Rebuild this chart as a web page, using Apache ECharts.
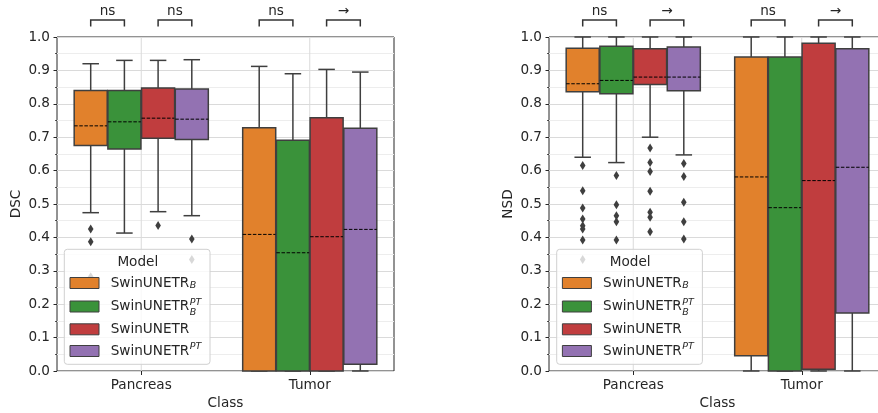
<!DOCTYPE html>
<html>
<head>
<meta charset="utf-8">
<title>DSC / NSD boxplots</title>
<script src="https://cdn.jsdelivr.net/npm/echarts@6/dist/echarts.min.js"></script>
</head>
<body style="margin:0">
<div id="main" style="width:878px;height:413px;"></div>
<script>
// categories and models
var classes = ['Pancreas', 'Tumor'];
var modelNames = ['SwinUNETR', 'SwinUNETR', 'SwinUNETR', 'SwinUNETR'];
var modelSub = ['B', 'B', '', ''];
var modelSup = ['', 'PT', '', 'PT'];
var colors = ['#e1812c', '#3a923a', '#c03d3e', '#9372b2'];
var yTicks = [0, 0.1, 0.2, 0.3, 0.4, 0.5, 0.6, 0.7, 0.8, 0.9, 1.0];

// box stats: [min, q1, median, q3, max], one row per model
var dscPancreas = [
  [0.474, 0.675, 0.734, 0.840, 0.920],
  [0.413, 0.665, 0.746, 0.840, 0.930],
  [0.477, 0.697, 0.757, 0.847, 0.930],
  [0.465, 0.693, 0.754, 0.844, 0.932]
];
var dscTumor = [
  [0.000, 0.000, 0.409, 0.728, 0.912],
  [0.000, 0.000, 0.354, 0.691, 0.890],
  [0.000, 0.000, 0.402, 0.758, 0.903],
  [0.000, 0.020, 0.424, 0.727, 0.895]
];
var dscOutPancreas = [[0.425, 0.387, 0.282], [], [0.436], [0.395, 0.334]];
var dscOutTumor = [[], [], [], []];

var nsdPancreas = [
  [0.640, 0.836, 0.860, 0.966, 1.000],
  [0.624, 0.830, 0.870, 0.972, 1.000],
  [0.700, 0.858, 0.880, 0.965, 1.000],
  [0.647, 0.839, 0.880, 0.970, 1.000]
];
var nsdTumor = [
  [0.000, 0.046, 0.581, 0.940, 1.000],
  [0.000, 0.000, 0.489, 0.940, 1.000],
  [0.000, 0.005, 0.570, 0.981, 1.000],
  [0.000, 0.174, 0.610, 0.965, 1.000]
];
var nsdOutPancreas = [
  [0.615, 0.540, 0.488, 0.455, 0.435, 0.425, 0.392, 0.334],
  [0.585, 0.498, 0.465, 0.447, 0.392],
  [0.668, 0.624, 0.597, 0.538, 0.475, 0.460, 0.417],
  [0.621, 0.582, 0.505, 0.447, 0.395]
];
var nsdOutTumor = [[], [], [], []];

// significance marks: [class, model a, model b, text]
var dscMarks = [[0, 0, 1, 'ns'], [0, 2, 3, 'ns'], [1, 0, 1, 'ns'], [1, 2, 3, '\u2192']];
var nsdMarks = [[0, 0, 1, 'ns'], [0, 2, 3, '\u2192'], [1, 0, 1, 'ns'], [1, 2, 3, '\u2192']];

var FONT = 'DejaVu Sans';
var FS = 13.6;
var TXT = '#262626';
var EDGE = '#3f3f3f';

function boxRows(pan, tum) {
  var rows = [];
  [pan, tum].forEach(function (arr, c) {
    arr.forEach(function (s, g) { rows.push([c, g].concat(s)); });
  });
  return rows;
}
function outRows(pan, tum) {
  var rows = [];
  [pan, tum].forEach(function (arr, c) {
    arr.forEach(function (vals, g) {
      vals.forEach(function (v) { rows.push([c, g, v]); });
    });
  });
  return rows;
}

function slot(api, c, g) {
  var band = api.size([1, 0])[0];
  var w = band * 0.2;
  return { cx: api.coord([c, 0])[0] + (g - 1.5) * w, w: w * 0.98 };
}

function renderBox(params, api) {
  var c = api.value(0), g = api.value(1);
  var s = slot(api, c, g);
  var y = [2, 3, 4, 5, 6].map(function (d) { return api.coord([c, api.value(d)])[1]; });
  var half = s.w / 2, cap = s.w / 4;
  var ls = { stroke: EDGE, lineWidth: 1.5 };
  return {
    type: 'group',
    children: [
      { type: 'line', shape: { x1: s.cx, y1: y[3], x2: s.cx, y2: y[4] }, style: ls },
      { type: 'line', shape: { x1: s.cx, y1: y[0], x2: s.cx, y2: y[1] }, style: ls },
      { type: 'line', shape: { x1: s.cx - cap, y1: y[4], x2: s.cx + cap, y2: y[4] }, style: ls },
      { type: 'line', shape: { x1: s.cx - cap, y1: y[0], x2: s.cx + cap, y2: y[0] }, style: ls },
      { type: 'rect', shape: { x: s.cx - half, y: y[3], width: s.w, height: y[1] - y[3] },
        style: { fill: colors[g], stroke: EDGE, lineWidth: 1.5 } },
      { type: 'line', shape: { x1: s.cx - half, y1: y[2], x2: s.cx + half, y2: y[2] },
        style: { stroke: '#000', lineWidth: 1, lineDash: [3.5, 1.6] } }
    ]
  };
}

function renderOut(params, api) {
  var c = api.value(0), g = api.value(1);
  var s = slot(api, c, g);
  var y = api.coord([c, api.value(2)])[1];
  return {
    type: 'polygon',
    shape: { points: [[s.cx, y - 4.5], [s.cx + 2.8, y], [s.cx, y + 4.5], [s.cx - 2.8, y]] },
    style: { fill: EDGE }
  };
}

function renderVGrid(params, api) {
  var x = api.coord([api.value(0), 0])[0];
  var cs = params.coordSys;
  return { type: 'line', shape: { x1: x, y1: cs.y, x2: x, y2: cs.y + cs.height },
    style: { stroke: '#dadada', lineWidth: 1 } };
}

function makeMarkRenderer(marks) {
  return function (params, api) {
    var m = marks[params.dataIndex];
    var a = slot(api, m[0], m[1]).cx, b = slot(api, m[0], m[2]).cx;
    var top = api.coord([m[0], 1])[1];
    var yl = top - 17, yb = top - 10.5;
    return {
      type: 'group',
      children: [
        { type: 'polyline', shape: { points: [[a, yb], [a, yl], [b, yl], [b, yb]] },
          style: { stroke: '#333', lineWidth: 1.5, fill: null } },
        { type: 'text', x: (a + b) / 2, y: yl - 8.5,
          style: { text: m[3], font: FS + 'px "' + FONT + '"', fill: TXT, align: 'center', verticalAlign: 'middle' } }
      ]
    };
  };
}

function panelSeries(gi, boxes, outs, marks) {
  return [
    { type: 'custom', xAxisIndex: gi, yAxisIndex: gi, z: 1, silent: true,
      data: classes.map(function (c, i) { return [i]; }), encode: { x: 0 }, renderItem: renderVGrid },
    { type: 'custom', xAxisIndex: gi, yAxisIndex: gi, z: 2, silent: true,
      data: boxes, encode: { x: 0, y: [2, 3, 4, 5, 6] }, renderItem: renderBox },
    { type: 'custom', xAxisIndex: gi, yAxisIndex: gi, z: 3, silent: true,
      data: outs, encode: { x: 0, y: 2 }, renderItem: renderOut },
    { type: 'custom', xAxisIndex: gi, yAxisIndex: gi, z: 3, silent: true, clip: false,
      data: marks.map(function (m) { return [m[0], m[1], m[2]]; }), encode: { x: 0 },
      renderItem: makeMarkRenderer(marks) }
  ];
}

function xAxisFor(gi) {
  return {
    type: 'category', gridIndex: gi, data: classes, boundaryGap: true,
    name: 'Class', nameLocation: 'middle', nameGap: 24,
    nameTextStyle: { fontFamily: FONT, fontSize: FS, color: TXT },
    axisLine: { show: false },
    axisTick: { show: true, alignWithLabel: true, length: 4, lineStyle: { color: TXT, width: 1 } },
    axisLabel: { fontFamily: FONT, fontSize: FS, color: TXT, margin: 7 },
    splitLine: { show: false }
  };
}
function yAxisFor(gi, name) {
  return {
    type: 'value', gridIndex: gi, min: yTicks[0], max: yTicks[yTicks.length - 1], interval: 0.1,
    name: name, nameLocation: 'middle', nameGap: 34,
    nameTextStyle: { fontFamily: FONT, fontSize: FS, color: TXT },
    axisLine: { show: false },
    axisTick: { show: true, length: 3.5, lineStyle: { color: TXT, width: 1 } },
    minorTick: { show: true, splitNumber: 2, length: 2, lineStyle: { color: TXT, width: 0.8 } },
    axisLabel: { fontFamily: FONT, fontSize: FS, color: TXT, margin: 7,
      formatter: function (v) { return v.toFixed(1); } },
    splitLine: { show: true, lineStyle: { color: '#dadada', width: 1 } },
    minorSplitLine: { show: true, lineStyle: { color: '#ededed', width: 1 } }
  };
}

// legend drawn as graphics (sub/superscripts stacked like matplotlib mathtext)
var ctx = document.createElement('canvas').getContext('2d');
ctx.font = FS + 'px "' + FONT + '"';
function legendAt(x0) {
  var els = [];
  var txtFont = FS + 'px "' + FONT + '"';
  var smallFont = 'italic 9.5px "' + FONT + '"';
  els.push({ type: 'rect', z: 100, shape: { x: x0, y: 249.3, width: 145.7, height: 115, r: 3 },
    style: { fill: 'rgba(255,255,255,0.8)', stroke: '#d0d0d0', lineWidth: 1 } });
  els.push({ type: 'text', z: 101, x: x0 + 73.5, y: 262,
    style: { text: 'Model', font: txtFont, fill: TXT, align: 'center', verticalAlign: 'middle' } });
  var rowY = [283, 306.5, 329.3, 351];
  modelNames.forEach(function (nm, i) {
    var cy = rowY[i];
    els.push({ type: 'rect', z: 101, shape: { x: x0 + 5.7, y: cy - 5.5, width: 29, height: 11 },
      style: { fill: colors[i], stroke: EDGE, lineWidth: 1 } });
    var tx = x0 + 46.4;
    els.push({ type: 'text', z: 101, x: tx, y: cy,
      style: { text: nm, font: txtFont, fill: TXT, align: 'left', verticalAlign: 'middle' } });
    var ex = tx + ctx.measureText(nm).width + 0.5;
    var both = modelSub[i] && modelSup[i];
    if (modelSub[i]) {
      els.push({ type: 'text', z: 101, x: ex, y: cy + (both ? 5.7 : 2.8),
        style: { text: modelSub[i], font: smallFont, fill: TXT, align: 'left', verticalAlign: 'middle' } });
    }
    if (modelSup[i]) {
      els.push({ type: 'text', z: 101, x: ex, y: cy - 4.2,
        style: { text: modelSup[i], font: smallFont, fill: TXT, align: 'left', verticalAlign: 'middle' } });
    }
  });
  return els;
}

var chart = echarts.init(document.getElementById('main'), null, { renderer: 'canvas' });
chart.setOption({
  animation: false,
  backgroundColor: '#fff',
  grid: [
    { left: 57, top: 37, width: 337, height: 334, show: true, backgroundColor: '#fff',
      borderColor: '#262626', borderWidth: 1, containLabel: false, outerBoundsMode: 'none' },
    { left: 549, top: 37, width: 337, height: 334, show: true, backgroundColor: '#fff',
      borderColor: '#262626', borderWidth: 1, containLabel: false, outerBoundsMode: 'none' }
  ],
  xAxis: [xAxisFor(0), xAxisFor(1)],
  yAxis: [yAxisFor(0, 'DSC'), yAxisFor(1, 'NSD')],
  series: panelSeries(0, boxRows(dscPancreas, dscTumor), outRows(dscOutPancreas, dscOutTumor), dscMarks)
    .concat(panelSeries(1, boxRows(nsdPancreas, nsdTumor), outRows(nsdOutPancreas, nsdOutTumor), nsdMarks)),
  graphic: legendAt(64.3).concat(legendAt(556.7))
});
</script>
</body>
</html>
